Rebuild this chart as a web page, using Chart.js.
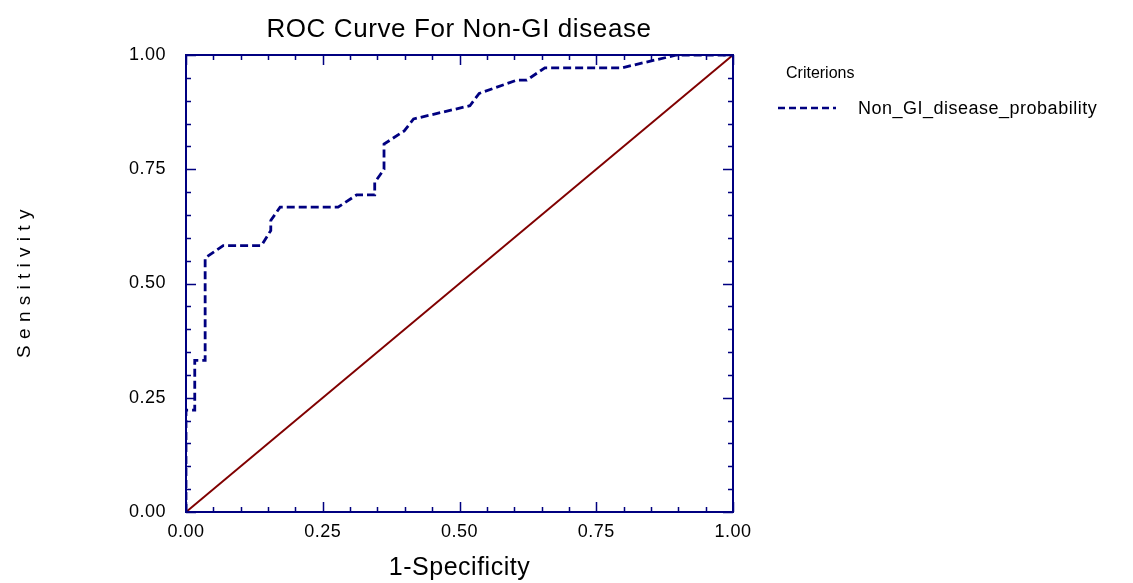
<!DOCTYPE html>
<html>
<head>
<meta charset="utf-8">
<script src="https://cdn.jsdelivr.net/npm/chart.js@4"></script>
<style>
body { margin: 0; background: #fff; }
#wrap { width: 1133px; height: 583px; }
</style>
</head>
<body>
<div id="wrap"><canvas id="roc" width="1133" height="583"></canvas></div>
<script>
// ROC curve
var fpr = [0, 0, 0.016, 0.016, 0.035, 0.035, 0.068, 0.138, 0.155, 0.155, 0.172, 0.278,
	   0.312, 0.345, 0.345, 0.362, 0.362, 0.399, 0.416, 0.519, 0.536, 0.605, 0.623,
	   0.656, 0.797, 0.897, 1.0];
var tpr = [0, 0.223, 0.223, 0.332, 0.332, 0.556, 0.583, 0.583, 0.616, 0.638, 0.667, 0.667,
	   0.694, 0.694, 0.721, 0.750, 0.805, 0.834, 0.860, 0.889, 0.916, 0.945, 0.945,
	   0.972, 0.972, 1.0, 1.0];
var diag_x = [0, 1];
var diag_y = [0, 1];
var tick_vals = [0, 0.25, 0.5, 0.75, 1];

const title_text = 'ROC Curve For Non-GI disease';
const legend_title = 'Criterions';
const series_name = 'Non_GI_disease_probability';
const navy = '#000080';
const maroon = '#800000';
const font = 'Liberation Sans, Arial, sans-serif';

function pts(xs, ys)
{
    return xs.map(function(x, i) { return {x: x, y: ys[i]}; });
}

const frame = {
    id: 'frame',
    beforeDraw: function(chart) {
	// the original text runs a little wider than Arial
	chart.ctx.letterSpacing = '0.5px';
    },
    afterDraw: function(chart) {
	var c = chart.ctx;
	var a = chart.chartArea;
	var xs = chart.scales.x, ys = chart.scales.y;

	c.save();
	c.strokeStyle = navy;
	c.lineWidth = 2;
	c.strokeRect(a.left, a.top, a.right - a.left, a.bottom - a.top);

	// inward ticks on all four sides
	c.lineWidth = 1.5;
	c.beginPath();
	for (var k = 0; k <= 20; k++) {
	    var v = k / 20;
	    var len = (k % 5 == 0) ? 10 : 5;
	    var px = Math.round(xs.getPixelForValue(v)) + 0.5;
	    var py = Math.round(ys.getPixelForValue(v)) + 0.5;
	    c.moveTo(px, a.bottom); c.lineTo(px, a.bottom - len);
	    c.moveTo(px, a.top); c.lineTo(px, a.top + len);
	    c.moveTo(a.left, py); c.lineTo(a.left + len, py);
	    c.moveTo(a.right, py); c.lineTo(a.right - len, py);
	}
	c.stroke();

	// title
	c.fillStyle = '#000';
	c.font = '26px ' + font;
	c.letterSpacing = '0.6px';
	c.textAlign = 'center';
	c.textBaseline = 'alphabetic';
	c.fillText(title_text, 459, 37);

	// legend
	c.textBaseline = 'middle';
	c.textAlign = 'left';
	c.font = '16px ' + font;
	c.letterSpacing = '0px';
	c.fillText(legend_title, 786, 74);
	c.font = '18px ' + font;
	c.letterSpacing = '0.5px';
	c.fillText(series_name, 858, 109);
	c.strokeStyle = navy;
	c.lineWidth = 2.5;
	c.setLineDash([7, 4]);
	c.beginPath();
	c.moveTo(778, 108);
	c.lineTo(836, 108);
	c.stroke();
	c.restore();
    }
};

const ctx = document.getElementById('roc');

new Chart(ctx, {
    type: 'scatter',
    data: {
	datasets: [{
	    label: series_name,
	    data: pts(fpr, tpr),
	    showLine: true,
	    borderColor: navy,
	    borderWidth: 2.8,
	    borderDash: [8, 4],
	    pointRadius: 0,
	    tension: 0
	}, {
	    label: 'diagonal',
	    data: pts(diag_x, diag_y),
	    showLine: true,
	    borderColor: maroon,
	    borderWidth: 2,
	    pointRadius: 0
	}]
    },
    options: {
	responsive: false,
	animation: false,
	layout: {
	    padding: {top: 55, right: 400, left: 0, bottom: 0}
	},
	plugins: {
	    legend: {display: false},
	    tooltip: {enabled: false}
	},
	scales: {
	    x: {
		type: 'linear',
		min: 0,
		max: 1,
		afterBuildTicks: function(s) {
		    s.ticks = tick_vals.map(function(v) { return {value: v}; });
		},
		afterFit: function(s) { s.height = 71; },
		grid: {display: false, drawTicks: false},
		border: {display: false},
		ticks: {
		    padding: 9,
		    color: '#000',
		    maxRotation: 0,
		    font: {family: font, size: 18},
		    callback: function(v) { return v.toFixed(2); }
		},
		title: {
		    display: true,
		    text: '1-Specificity',
		    color: '#000',
		    font: {family: font, size: 25},
		    padding: {top: 0, bottom: 0}
		}
	    },
	    y: {
		type: 'linear',
		min: 0,
		max: 1,
		afterBuildTicks: function(s) {
		    s.ticks = tick_vals.map(function(v) { return {value: v}; });
		},
		afterFit: function(s) { s.width = 186; },
		grid: {display: false, drawTicks: false},
		border: {display: false},
		ticks: {
		    padding: 20,
		    color: '#000',
		    font: {family: font, size: 18},
		    callback: function(v) { return v.toFixed(2); }
		},
		title: {
		    display: true,
		    text: 'S e n s i t i v i t y',
		    color: '#000',
		    font: {family: font, size: 19},
		    padding: {top: 13, bottom: 0}
		}
	    }
	}
    },
    plugins: [frame]
});
</script>
</body>
</html>
